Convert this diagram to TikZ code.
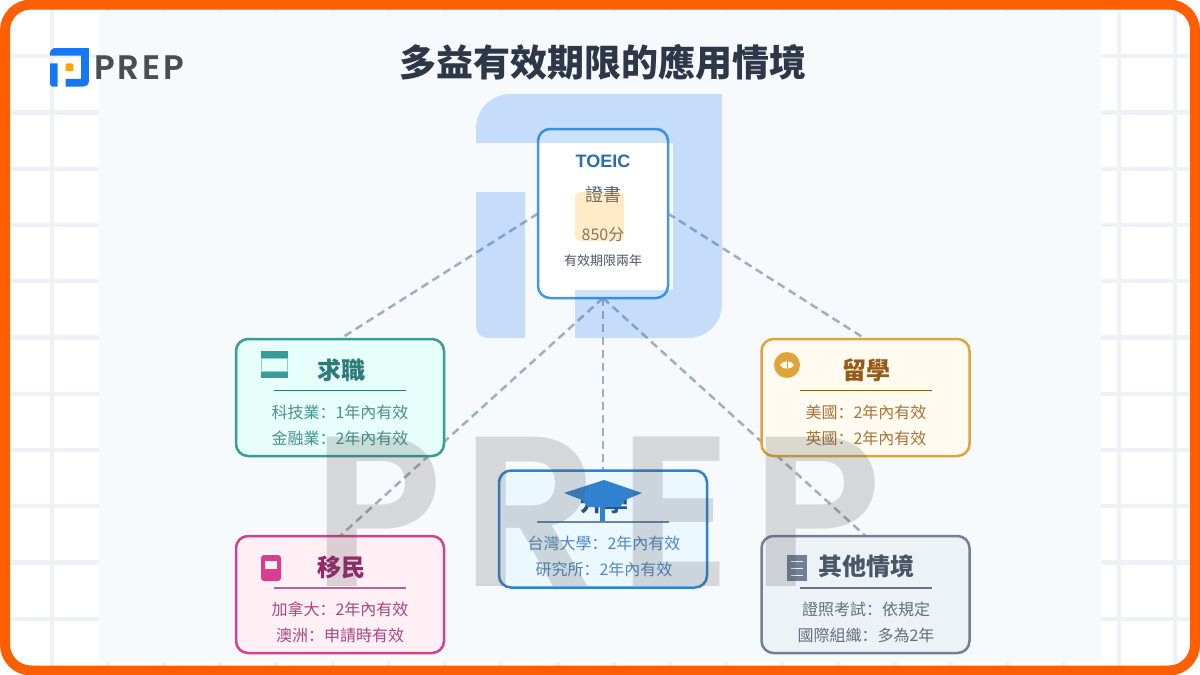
\documentclass[tikz,border=0pt]{standalone}
\usepackage{fontspec}
\setmainfont{Noto Sans CJK SC}
\newfontfamily\latinfont{Liberation Sans}
\newfontfamily\brandfont[LetterSpace=9]{Poppins SemiBold}
\newfontfamily\markfont[LetterSpace=9]{Poppins SemiBold}
\usepackage{tikz}
\usetikzlibrary{positioning}

\definecolor{frameorange}{RGB}{255,95,0}
\definecolor{gridgray}{RGB}{240,241,246}
\definecolor{panelblue}{RGB}{247,250,252}
\definecolor{logoblue}{RGB}{22,119,245}
\definecolor{logoorange}{RGB}{255,165,0}
\definecolor{logogray}{RGB}{77,77,79}
\definecolor{linkgray}{RGB}{160,174,192}
\definecolor{titledark}{RGB}{45,55,72}
\definecolor{toeicblue}{RGB}{66,153,225}
\definecolor{toeictext}{RGB}{43,108,176}
\definecolor{certtext}{RGB}{74,96,128}
\definecolor{tealline}{RGB}{56,155,152}
\definecolor{tealfill}{RGB}{230,255,250}
\definecolor{tealtext}{RGB}{44,122,123}
\definecolor{goldline}{RGB}{222,165,60}
\definecolor{goldfill}{RGB}{255,251,240}
\definecolor{goldtext}{RGB}{151,90,22}
\definecolor{pinkline}{RGB}{213,63,140}
\definecolor{pinkfill}{RGB}{255,240,245}
\definecolor{pinktext}{RGB}{151,38,109}
\definecolor{blueline}{RGB}{49,130,206}
\definecolor{bluefill}{RGB}{235,248,255}
\definecolor{bluetext}{RGB}{44,82,130}
\definecolor{slateline}{RGB}{113,128,150}
\definecolor{slatefill}{RGB}{237,242,247}
\definecolor{slatetext}{RGB}{74,85,104}

\pgfdeclarelayer{sheetlayer}
\pgfdeclarelayer{linklayer}
\pgfsetlayers{sheetlayer,linklayer,main}

\tikzset{
    cardbox/.style={draw=#1, line width=2.5pt, rounded corners=12pt, inner sep=0pt, outer sep=0pt,
        minimum width=208pt, minimum height=117pt},
    cardtitle/.style={text=#1, inner sep=0pt, font=\fontsize{24}{28}\selectfont\bfseries},
    cardtext/.style={text=#1!85!white, inner sep=0pt, font=\fontsize{16}{19}\selectfont},
    linkline/.style={draw=linkgray, line width=2.5pt, dash pattern=on 8pt off 5pt},
}

% one logo mark, 246 units wide
\newcommand{\prepmark}{%
    \fill[logoblue] (0,49) -- (0,35) .. controls (0,15) and (15,0) .. (35,0) -- (246,0) -- (246,210)
        .. controls (246,230) and (230,244) .. (212,244) -- (99,244) -- (99,196) -- (197,196) -- (197,49) -- cycle;
    \fill[logoblue] (0,98) -- (49,98) -- (49,244) -- (12,244) .. controls (5,244) and (0,239) .. (0,232) -- cycle;
    \fill[logoorange] (105,98) -- (142,98) .. controls (146,98) and (148,100) .. (148,104) -- (148,141)
        .. controls (148,145) and (146,147) .. (142,147) -- (105,147) .. controls (101,147) and (99,145) .. (99,141)
        -- (99,104) .. controls (99,100) and (101,98) .. (105,98) -- cycle;
}

\begin{document}
\begin{tikzpicture}[x=1pt, y=-1pt]
    \useasboundingbox (0,0) rectangle (1200,675);

    % Sheet with grid
    \begin{pgfonlayer}{sheetlayer}
        \begin{scope}
            \clip[rounded corners=28pt] (0,0) rectangle (1200,675);
            \fill[white] (0,0) rectangle (1200,675);
            \foreach \k in {0,...,20} {
                \fill[gridgray] (52-2.2+56.16*\k,0) rectangle (52+2.2+56.16*\k,675);
            }
            \foreach \k in {1,...,11} {
                \fill[gridgray] (0,56.25*\k-2.2) rectangle (1200,56.25*\k+2.2);
            }
        \end{scope}
        \fill[panelblue] (99,12) rectangle (1101,662);
        \draw[frameorange, line width=10pt, rounded corners=26pt] (5,4.5) rectangle (1195,670.5);
    \end{pgfonlayer}

    % Small logo
    \begin{scope}[shift={(50,48)}, scale=0.158]
        \prepmark
    \end{scope}
    \node[anchor=west, inner sep=0pt, text=logogray, font=\fontsize{34}{36}\brandfont] (brand) at (94,67.5) {PREP};

    % Title
    \node[inner sep=0pt, text=titledark, font=\fontsize{37}{42}\selectfont\bfseries] (title) at (603,62) {多益有效期限的應用情境};

    % Cards
    \node[cardbox=toeicblue, fill=white, minimum width=130pt, minimum height=169pt] (toeic) at (603,213.5) {};
    \node[cardbox=tealline, fill=tealfill] (qiuzhi) at (340,397.5) {};
    \node[cardbox=goldline, fill=goldfill] (liuxue) at (865.5,397.5) {};
    \node[cardbox=pinkline, fill=pinkfill] (yimin) at (340,594.5) {};
    \node[cardbox=blueline, fill=bluefill] (shengxue) at (603,529) {};
    \node[cardbox=slateline, fill=slatefill] (qita) at (865.5,594.5) {};

    % Links run under the cards
    \begin{pgfonlayer}{linklayer}
        \draw[linkline] (toeic.west) -- (qiuzhi.north);
        \draw[linkline] (toeic.east) -- (liuxue.north);
        \draw[linkline] (toeic.south) -- (yimin.north);
        \draw[linkline] (toeic.south) -- (shengxue.north);
        \draw[linkline] (toeic.south) -- (qita.north);
    \end{pgfonlayer}

    % Main card text
    \node[inner sep=0pt, text=toeictext, font=\fontsize{18}{21}\latinfont\bfseries] (toeiclabel) at (603,161) {TOEIC};
    \node[inner sep=0pt, text=certtext, font=\fontsize{18}{21}\selectfont] (certlabel) at (603,195) {證書};
    \node[inner sep=0pt, text=slateline!85!black, font=\fontsize{16}{19}\selectfont] (scorelabel) at (603,234.5) {850分};
    \node[inner sep=0pt, text=slatetext, font=\fontsize{13}{16}\selectfont] (validlabel) at (603,261) {有效期限兩年};

    % Job card
    \node[cardtitle=tealtext] (qiuzhititle) at (341,370) {求職};
    \draw[tealtext, line width=1pt] (274,390.5) -- (406,390.5);
    \node[cardtext=tealtext] (qiuzhione) at (340,412) {科技業：1年內有效};
    \node[cardtext=tealtext] (qiuzhitwo) at (340,438) {金融業：2年內有效};
    \fill[tealline] (261,351) rectangle (288,358);
    \fill[tealline] (261,371) rectangle (288,378);
    \draw[tealline!50!tealfill, line width=0.5pt] (261.3,358) rectangle (287.7,371);

    % Study abroad card
    \node[cardtitle=goldtext] (liuxuetitle) at (866,370) {留學};
    \draw[goldtext, line width=1pt] (800,390.5) -- (932,390.5);
    \node[cardtext=goldtext] (liuxueone) at (866,412) {美國：2年內有效};
    \node[cardtext=goldtext] (liuxuetwo) at (866,438) {英國：2年內有效};
    \fill[goldline] (787,365) circle (13);
    \fill[goldfill] (780,365) .. controls (783,360) and (791,360) .. (794,365) .. controls (791,370) and (783,370) .. (780,365) -- cycle;
    \draw[goldline, line width=1pt] (787,360) -- (787,370);

    % Immigration card
    \node[cardtitle=pinktext] (yimintitle) at (341,567) {移民};
    \draw[pinktext!70!pinkfill, line width=2pt] (274,587.5) -- (406,587.5);
    \node[cardtext=pinktext] (yiminone) at (340,609) {加拿大：2年內有效};
    \node[cardtext=pinktext] (yimintwo) at (340,635) {澳洲：申請時有效};
    \fill[pinkline, rounded corners=3pt] (261,555) rectangle (281,581);
    \fill[pinkfill] (265,561) rectangle (277,569);

    % Further study card
    \node[cardtitle=bluetext] (shengxuetitle) at (604,502) {升學};
    \fill[blueline] (564,493) -- (604,480) -- (642,493) -- (625,500) -- (620,507) -- (588,507) -- (582,500) -- cycle;
    \fill[blueline] (600,505) rectangle (605,522);
    \draw[bluetext!70!bluefill, line width=1.5pt] (537,522) -- (669,522);
    \node[cardtext=blueline!70!bluetext] (shengxueone) at (604,543) {台灣大學：2年內有效};
    \node[cardtext=blueline!70!bluetext] (shengxuetwo) at (604,569) {研究所：2年內有效};

    % Other card
    \node[cardtitle=slatetext] (qitatitle) at (866,566) {其他情境};
    \draw[slatetext!80!slatefill, line width=2pt] (800,587.5) -- (932,587.5);
    \node[cardtext=slatetext] (qitaone) at (866,609) {證照考試：依規定};
    \node[cardtext=slatetext] (qitatwo) at (866,635) {國際組織：多為2年};
    \fill[slateline] (787,555) rectangle (807,581);
    \foreach \y in {561,568,575} {
        \draw[slatefill, line width=1pt] (791,\y) -- (803,\y);
    }

    % Watermark over everything
    \begin{scope}[shift={(476,94)}, opacity=0.22]
        \prepmark
    \end{scope}
    \node[inner sep=0pt, anchor=center, opacity=0.2, text=logogray, font=\fontsize{214}{220}\markfont] (mark) at (597,512) {PREP};
\end{tikzpicture}
\end{document}
